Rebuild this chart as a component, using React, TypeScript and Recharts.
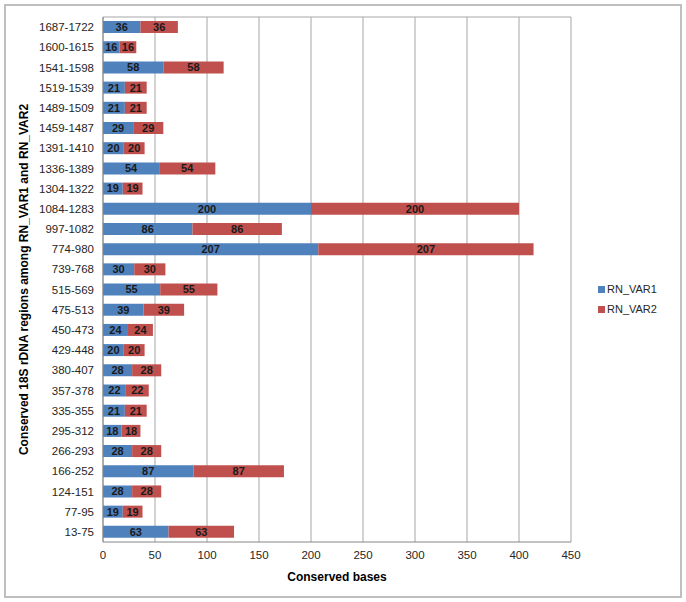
import { BarChart, Bar, XAxis, YAxis, CartesianGrid, Legend, LabelList } from "recharts";

// top to bottom, as in the figure
const regions = [
  "1687-1722", "1600-1615", "1541-1598", "1519-1539", "1489-1509", "1459-1487",
  "1391-1410", "1336-1389", "1304-1322", "1084-1283", "997-1082", "774-980",
  "739-768", "515-569", "475-513", "450-473", "429-448", "380-407", "357-378",
  "335-355", "295-312", "266-293", "166-252", "124-151", "77-95", "13-75",
];
const var1 = [36, 16, 58, 21, 21, 29, 20, 54, 19, 200, 86, 207, 30, 55, 39, 24, 20, 28, 22, 21, 18, 28, 87, 28, 19, 63];
const var2 = [36, 16, 58, 21, 21, 29, 20, 54, 19, 200, 86, 207, 30, 55, 39, 24, 20, 28, 22, 21, 18, 28, 87, 28, 19, 63];
const xTicks = [0, 50, 100, 150, 200, 250, 300, 350, 400, 450];

const data = regions.map((r, i) => ({ region: r, RN_VAR1: var1[i], RN_VAR2: var2[i] }));

const FONT = "'Liberation Sans', Arial, sans-serif";
const BLUE = "#4f81bd";
const RED = "#c0504d";

// eslint-disable-next-line @typescript-eslint/no-explicit-any
function LegendBox({ payload }: any) {
  return (
    <div style={{ fontFamily: FONT, fontSize: 11, color: "#262626" }}>
      {(payload || []).map((p: { value: string; color: string }) => (
        <div key={p.value} style={{ display: "flex", alignItems: "center", height: 20 }}>
          <span style={{ width: 7, height: 7, background: p.color, display: "inline-block", marginRight: 2 }} />
          {p.value}
        </div>
      ))}
    </div>
  );
}

export default function App() {
  return (
    <div style={{ position: "absolute", left: 0, top: 0, width: 686, height: 602, background: "#fff" }}>
      <div style={{ position: "absolute", left: 4, top: 4, width: 674, height: 590, border: "2px solid #bfbfbf" }} />
      <BarChart
        width={686}
        height={602}
        data={data}
        layout="vertical"
        margin={{ top: 17, right: 115, bottom: 0, left: 0 }}
        barCategoryGap="20%"
        style={{ fontFamily: FONT }}
      >
        <CartesianGrid
          stroke="#a6a6a6"
          strokeWidth={1}
          horizontalCoordinatesGenerator={({ offset }: { offset: { top: number } }) => [offset.top]}
        />
        <XAxis
          type="number"
          domain={[0, 450]}
          ticks={xTicks}
          interval={0}
          tick={{ fill: "#262626", fontSize: 11.5 }}
          tickLine={false}
          tickSize={0}
          tickMargin={9}
          axisLine={{ stroke: "#868686" }}
          height={60}
          label={{ value: "Conserved bases", position: "insideBottom", offset: 21, fill: "#000", fontSize: 12, fontWeight: "bold" }}
        />
        <YAxis
          type="category"
          dataKey="region"
          width={103}
          interval={0}
          tick={{ fill: "#262626", fontSize: 11.5 }}
          tickLine={false}
          tickSize={0}
          tickMargin={9}
          axisLine={{ stroke: "#868686" }}
          label={{
            value: "Conserved 18S rDNA regions among RN_VAR1 and RN_VAR2",
            angle: -90,
            position: "insideLeft",
            offset: 24,
            style: { textAnchor: "middle" },
            fill: "#000",
            fontSize: 12,
            fontWeight: "bold",
          }}
        />
        <Legend
          layout="vertical"
          verticalAlign="middle"
          align="center"
          wrapperStyle={{ left: 598, top: 279, width: 90 }}
          content={<LegendBox />}
        />
        <Bar dataKey="RN_VAR1" stackId="a" fill={BLUE} isAnimationActive={false}>
          <LabelList dataKey="RN_VAR1" position="center" fill="#1a1a1a" fontSize={11} fontWeight="bold" />
        </Bar>
        <Bar dataKey="RN_VAR2" stackId="a" fill={RED} isAnimationActive={false}>
          <LabelList dataKey="RN_VAR2" position="center" fill="#1a1a1a" fontSize={11} fontWeight="bold" />
        </Bar>
      </BarChart>
    </div>
  );
}
